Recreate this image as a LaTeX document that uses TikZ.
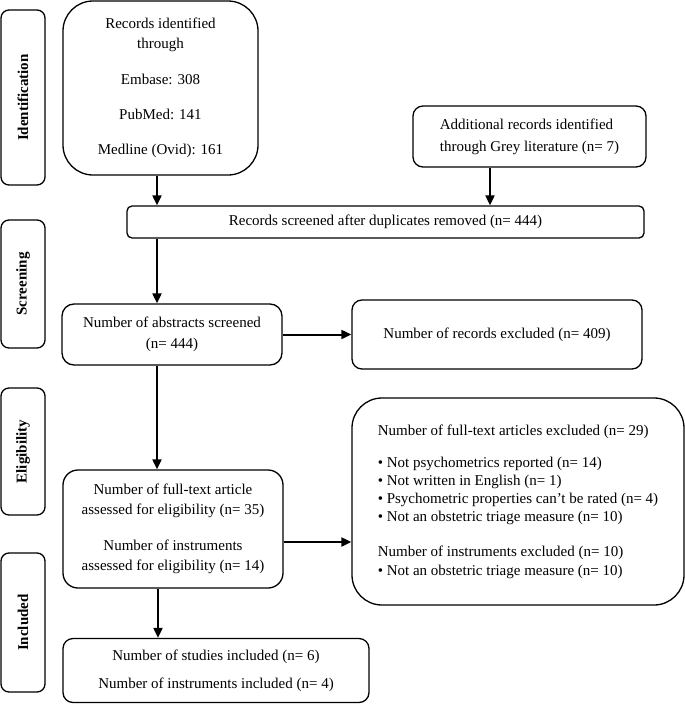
\documentclass[tikz,border=0pt]{standalone}
\usepackage{fontspec}
\setmainfont{Liberation Serif}
\usetikzlibrary{arrows.meta}
\begin{document}
\begin{tikzpicture}[x=1pt,y=-1pt,
  box/.style={draw, line width=1.3pt, rounded corners=#1, inner sep=0pt, align=center,
    font=\fontsize{15}{20}\selectfont},
  side/.style={draw, line width=1.3pt, rounded corners=8pt, inner sep=0pt, minimum width=44pt,
    font=\fontsize{15}{18}\selectfont\bfseries},
  arr/.style={line width=2pt, -{Stealth[length=10pt,width=9pt,inset=0pt]}}]
\useasboundingbox (0,0) rectangle (685,707);
% stage labels
\node[side, minimum height=175pt] (s1) at (23,97.5) {\rotatebox{90}{Identification}};
\node[side, minimum height=128pt] (s2) at (23,284) {\rotatebox{90}{Screening}};
\node[side, minimum height=127pt] (s3) at (23,451.5) {\rotatebox{90}{Eligibility}};
\node[side, minimum height=139pt] (s4) at (23,622.5) {\rotatebox{90}{Included}};
% boxes
\node[box=30pt, minimum width=195pt, minimum height=174pt] (A) at (160.5,88)
  {Records identified\\through\\[16pt]Embase: 308\\[15pt]PubMed: 141\\[15pt]Medline (Ovid): 161};
\node[box=10pt, minimum width=233pt, minimum height=61pt, align=left, font=\fontsize{15}{22}\selectfont] (B) at (529.5,136.5)
  {Additional records identified\\through Grey literature (n= 7)};
\node[box=5pt, minimum width=517pt, minimum height=32pt] (C) at (385.5,222)
  {Records screened after duplicates removed (n= 444)};
\node[box=12pt, minimum width=220pt, minimum height=61pt, font=\fontsize{15}{21}\selectfont] (D) at (172,334.5)
  {Number of abstracts screened\\(n= 444)};
\node[box=10pt, minimum width=290pt, minimum height=69pt] (E) at (497,334.5)
  {Number of records excluded (n= 409)};
\node[box=15pt, minimum width=220pt, minimum height=118pt] (F) at (173,529)
  {Number of full-text article\\assessed for eligibility (n= 35)\\[16pt]Number of instruments\\assessed for eligibility (n= 14)};
\node[box=30pt, minimum width=332pt, minimum height=207pt, align=left, font=\fontsize{15}{18.3}\selectfont] (G) at (518,501.5)
  {Number of full-text articles excluded (n= 29)\\[13.7pt]
   \textbullet\ Not psychometrics reported (n= 14)\\
   \textbullet\ Not written in English (n= 1)\\
   \textbullet\ Psychometric properties can’t be rated (n= 4)\\
   \textbullet\ Not an obstetric triage measure (n= 10)\\[16.7pt]
   Number of instruments excluded (n= 10)\\
   \textbullet\ Not an obstetric triage measure (n= 10)};
\node[box=10pt, minimum width=306pt, minimum height=64pt, font=\fontsize{15}{28}\selectfont] (H) at (216,670.5)
  {Number of studies included (n= 6)\\Number of instruments included (n= 4)};
% connectors
\coordinate (xa) at (157,0);
\coordinate (xb) at (490,0);
\coordinate (xh) at (158,0);
\coordinate (yf) at (0,542);
\draw[arr] (A.south -| xa) -- (C.north -| xa);
\draw[arr] (B.south -| xb) -- (C.north -| xb);
\draw[arr] (C.south -| xa) -- (D.north -| xa);
\draw[arr] (D.east) -- (E.west);
\draw[arr] (D.south -| xa) -- (F.north -| xa);
\draw[arr] (F.east |- yf) -- (G.west |- yf);
\draw[arr] (F.south -| xh) -- (H.north -| xh);
\end{tikzpicture}
\end{document}
